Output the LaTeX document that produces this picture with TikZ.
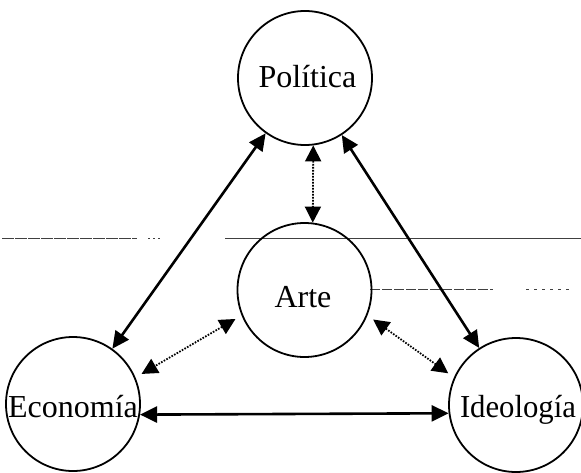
\documentclass[tikz,border=0pt]{standalone}
\usepackage{fontspec}
\setmainfont{Liberation Serif}
\usepackage{graphicx}
\usetikzlibrary{arrows.meta}
\tikzset{
  circ/.style={draw, circle, line width=1.8pt, minimum size=134pt, inner sep=0pt},
  lbl/.style={anchor=base, inner sep=0pt, font=\fontsize{32}{36}\selectfont},
  solidarrow/.style={line width=2.6pt, {Triangle[length=17pt,width=16pt]}-{Triangle[length=17pt,width=16pt]}},
  dotarrow/.style={line width=1.8pt, dash pattern=on 1.6pt off 1.4pt, {Triangle[length=16pt,width=16pt]}-{Triangle[length=16pt,width=16pt]}},
  scanline/.style={line width=0.9pt, black!75}
}
\begin{document}
\begin{tikzpicture}[x=1pt,y=-1pt]
\useasboundingbox[fill=white] (0,0) rectangle (581,472);
% scan lines
\draw[scanline, dash pattern=on 12pt off 1pt] (2,238) -- (137,238);
\draw[scanline, dash pattern=on 2pt off 3pt] (148,238) -- (160,238);
\draw[scanline] (225,238) -- (581,238);
\draw[scanline, dash pattern=on 10pt off 2pt] (370,289) -- (493,289);
\draw[scanline, dash pattern=on 3pt off 5pt] (526,289) -- (572,289);
% circles
\node[circ] (P) at (305,78) {};
\node[circ] (A) at (304.5,290) {};
\node[circ] (E) at (73,404) {};
\node[circ] (I) at (516,405) {};
% labels
\node[lbl] (Pt) at (307.5,87) {Política};
\node[lbl] (At) at (303,307) {Arte};
\node[lbl] (Et) at (73,417) {Economía};
\node[lbl] (It) at (518,417) {\scalebox{0.96}[1]{Ideología}};
% connectors
\draw[solidarrow] (P) -- (E);
\draw[solidarrow] (P) -- (I);
\draw[solidarrow] (E.-9) -- (I.187);
\draw[dotarrow] (P.-83) -- (A.83);
\draw[dotarrow, shorten <=7pt, shorten >=7pt] (A.202) -- (E.23);
\draw[dotarrow, shorten <=7pt, shorten >=7pt] (A.-22.6) -- (I.156);
\end{tikzpicture}
\end{document}
